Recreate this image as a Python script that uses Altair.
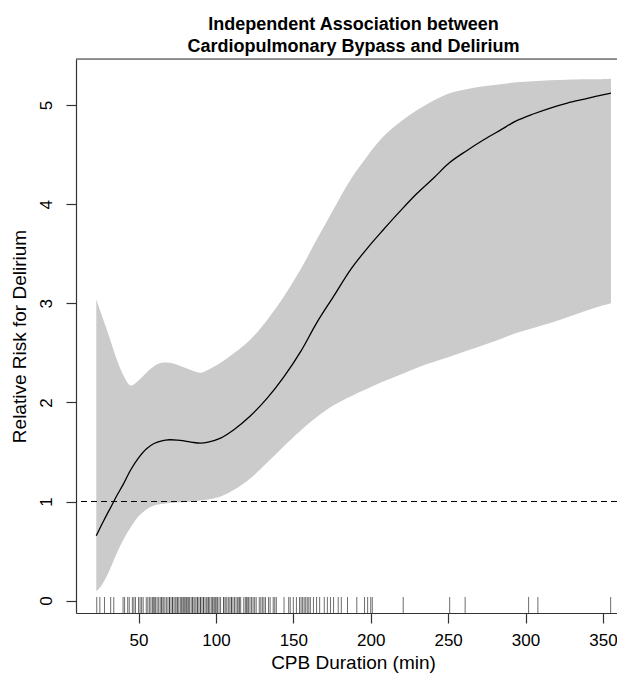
import altair as alt
import pandas as pd

# ---- data ----
cpb_grid = [22.7, 26, 29.6, 33, 36, 40, 45, 50, 55, 60, 65, 70, 75, 80, 85, 90, 95,
            103, 112, 122, 133, 144, 155, 165, 176, 187, 198, 208, 219, 230, 241,
            251, 262, 273, 284, 294, 305, 316, 327, 338, 346, 355.2]
rr_fit = [0.655, 0.76, 0.87, 0.97, 1.06, 1.17, 1.32, 1.44, 1.53, 1.585, 1.612, 1.623,
          1.62, 1.61, 1.597, 1.59, 1.60, 1.64, 1.73, 1.86, 2.04, 2.26, 2.52, 2.80,
          3.07, 3.34, 3.56, 3.74, 3.93, 4.11, 4.27, 4.42, 4.54, 4.65, 4.75, 4.84,
          4.91, 4.97, 5.02, 5.06, 5.09, 5.12]
rr_upper = [3.04, 2.89, 2.73, 2.57, 2.43, 2.28, 2.17, 2.22, 2.30, 2.365, 2.40, 2.40,
            2.38, 2.35, 2.32, 2.30, 2.33, 2.40, 2.50, 2.63, 2.83, 3.07, 3.35, 3.64,
            3.95, 4.25, 4.49, 4.68, 4.83, 4.95, 5.05, 5.12, 5.16, 5.19, 5.21, 5.23,
            5.24, 5.25, 5.255, 5.26, 5.26, 5.265]
rr_lower = [0.093, 0.15, 0.25, 0.37, 0.48, 0.61, 0.74, 0.85, 0.92, 0.96, 0.975, 0.985,
            0.99, 0.995, 1.0, 1.01, 1.02, 1.05, 1.12, 1.23, 1.39, 1.56, 1.72, 1.85,
            1.97, 2.06, 2.14, 2.21, 2.28, 2.35, 2.41, 2.46, 2.52, 2.58, 2.64, 2.70,
            2.75, 2.80, 2.86, 2.92, 2.96, 3.00]

rug_minutes = [23, 25, 28, 32, 34,
               40, 41, 43, 44, 46, 47, 48, 50, 51, 52, 53, 55, 56, 57, 58, 59, 60, 61,
               62, 63, 64, 65, 66, 67, 68, 69, 70, 71, 72, 73, 74, 75, 76, 77, 78, 79,
               80, 81, 82, 83, 84, 85, 86, 87, 88, 89, 90, 91, 92, 93, 94, 95, 96, 97,
               98, 99, 100, 101, 102, 103, 105, 106, 107, 108, 109, 110, 111, 112, 113,
               114, 115, 116, 118, 119, 120, 121, 122, 123, 124, 125, 126, 128, 129,
               130, 131, 132, 134, 135, 137, 138, 139,
               60, 65, 70, 72, 75, 78, 80, 82, 85, 88, 90, 92, 95, 98, 100, 105, 110,
               115, 120,
               144, 147, 148, 150, 152, 154, 155, 156, 157, 158, 159, 160, 161, 163,
               165, 167, 170, 172, 174, 176, 179, 181, 185, 191, 196, 198, 200, 201,
               221, 251, 261, 302, 308, 355]

x_ticks = [50, 100, 150, 200, 250, 300, 350]
y_ticks = [0, 1, 2, 3, 4, 5]

curve = pd.DataFrame({"cpb": cpb_grid, "fit": rr_fit, "lo": rr_lower, "hi": rr_upper})
rug = pd.DataFrame({"cpb": rug_minutes})
one = pd.DataFrame({"k": [0]})

W, H = 541, 554
FONT = "Liberation Sans"
xscale = alt.Scale(domain=[9.6, 359.1], nice=False, zero=False)
yscale = alt.Scale(domain=[-0.125, 5.465], nice=False, zero=False)
XT = "CPB Duration (min)"
YT = "Relative Risk for Delirium"

x_axis = alt.Axis(values=x_ticks, format="d", grid=False, tickSize=10, tickColor="#333",
                  domainColor="#333", domainWidth=1.2, tickWidth=1.2,
                  labelFontSize=17, labelPadding=9, labelColor="black",
                  labelFlush=False, labelFont=FONT,
                  titleFontSize=19, titleFontWeight="normal", titleFont=FONT,
                  titleColor="black", titleX=277, titleY=49,
                  titleBaseline="middle", titleAlign="center")
y_axis = alt.Axis(values=y_ticks, format="d", grid=False, tickSize=10, tickColor="#333",
                  domainColor="#333", domainWidth=1.2, tickWidth=1.2,
                  labelFontSize=17, labelPadding=11, labelColor="black",
                  labelAngle=270, labelAlign="center", labelBaseline="bottom",
                  labelFlush=False, labelFont=FONT,
                  titleFontSize=19, titleFontWeight="normal", titleFont=FONT,
                  titleColor="black", titleAngle=270, titleX=-57, titleY=277,
                  titleBaseline="middle", titleAlign="center")

band = alt.Chart(curve).mark_area(color="#cbcbcb", interpolate="catmull-rom").encode(
    x=alt.X("cpb:Q", scale=xscale, axis=x_axis, title=XT),
    y=alt.Y("lo:Q", scale=yscale, axis=y_axis, title=YT),
    y2="hi:Q",
)
line = alt.Chart(curve).mark_line(color="black", strokeWidth=1.3,
                                  interpolate="catmull-rom").encode(
    x=alt.X("cpb:Q", title=XT),
    y=alt.Y("fit:Q", title=YT),
)
ref = alt.Chart(one).mark_rule(color="black", strokeWidth=1,
                               strokeDash=[6, 4]).encode(y=alt.datum(1))
top_border = alt.Chart(one).mark_rule(color="#333", strokeWidth=1.2).encode(
    y=alt.value(0))
rug_marks = alt.Chart(rug).mark_rule(color="#333", strokeWidth=0.9,
                                     opacity=0.8).encode(
    x=alt.X("cpb:Q", title=XT),
    y=alt.value(H),
    y2=alt.value(H - 16),
)

chart = alt.layer(band, line, ref, rug_marks, top_border).properties(
    width=W,
    height=H,
    autosize="none",
    padding={"left": 68, "top": 51, "right": 0, "bottom": 61},
    title=alt.TitleParams(
        text=["Independent Association between", "Cardiopulmonary Bypass and Delirium"],
        font=FONT, fontSize=18, fontWeight="bold", color="black",
        anchor="middle", dx=7, lineHeight=22, offset=2,
    ),
).configure_view(stroke=None).configure(background="white")

chart.save("out.html", embed_options={"renderer": "svg", "actions": False})
